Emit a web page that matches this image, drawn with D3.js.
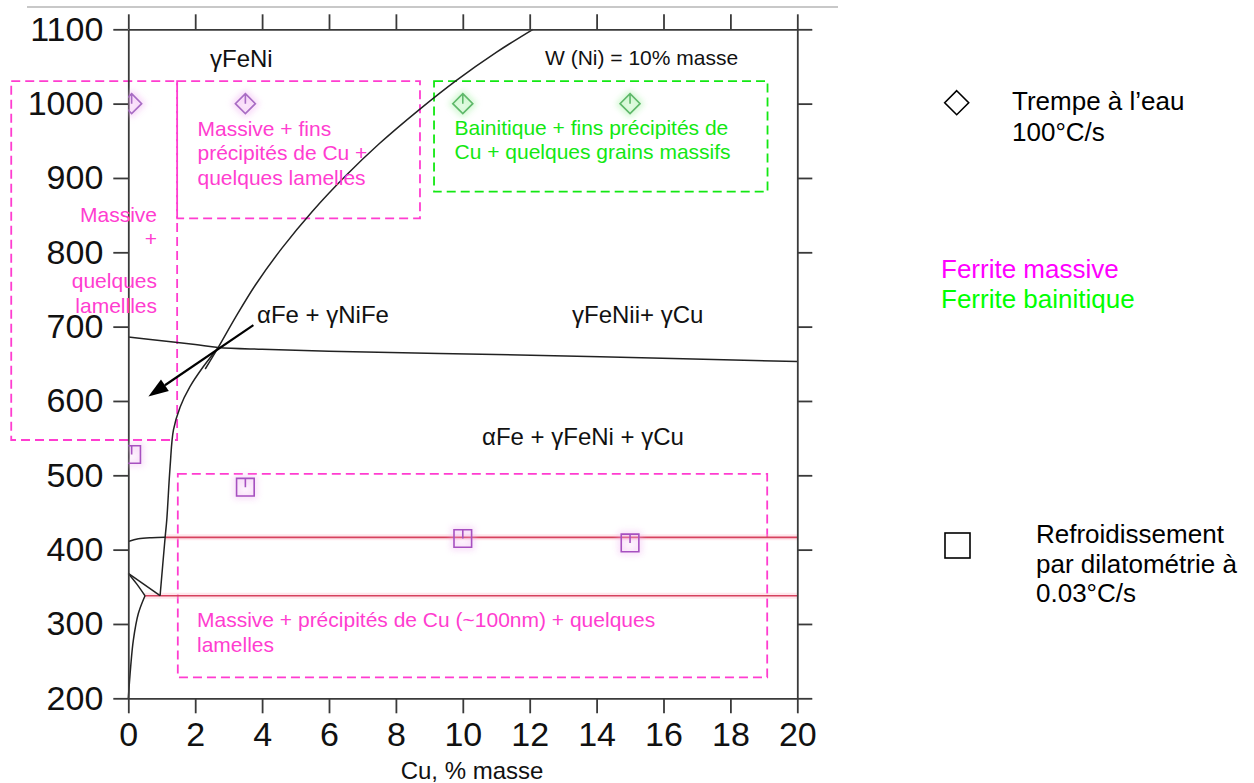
<!DOCTYPE html>
<html><head><meta charset="utf-8">
<script src="https://cdn.jsdelivr.net/npm/d3@7"></script>
<style>
body{margin:0;background:#fff;}
svg{display:block;font-family:"Liberation Sans",Arial,Helvetica,sans-serif;}
</style></head><body>
<svg id="chart" width="1254" height="783"></svg>
<script>
// ---------- data ----------
const xTicks = [0,2,4,6,8,10,12,14,16,18,20];
const yTicks = [200,300,400,500,600,700,800,900,1000,1100];

// quench (water, 100°C/s) samples – diamonds
const quenchCu = [0.1, 3.5, 10, 15];
const quenchT  = [1000, 1000, 1000, 1000];
const quenchType = ["massive","massive","bainitic","bainitic"];
// dilatometry (0.03°C/s) samples – squares
const dilatoCu = [0.1, 3.5, 10, 15];
const dilatoT  = [528, 484, 415, 409];

// phase boundaries [Cu %, T °C]
const solvusLow  = [[0.95,338],[1.1,416],[1.15,440],[1.25,512],[1.35,561],[1.55,592],[1.84,619],[2.24,646],[2.69,672]];
const solvusHigh = [[2.3,643],[2.69,672],[3.2,712],[3.8,756],[4.6,806],[5.5,855],[6.5,903],[7.5,946],[8.7,992],[9.8,1031],[11.0,1069],[12.1,1100]];
const gammaLine  = [[0,686],[1,681],[2,676],[2.69,672],[4,669.5],[6,667],[9.3,664],[14.1,659.5],[20,653]];
const line410    = [[0,411],[0.3,414.5],[0.7,416],[1.1,416.5]];
const line368a   = [[0,368],[0.25,354],[0.5,338]];
const line368b   = [[0,368],[0.95,338]];
const lineLow    = [[0,200],[0.07,242],[0.15,278],[0.3,314],[0.5,338]];
const eutectoidHigh = [[1.1,416.5],[20,416.5]];
const eutectoidLow  = [[0.5,338],[20,338]];
const arrowFrom = [3.74,702];
const arrowTo   = [0.6,606];

// annotation boxes [Cu0, Cu1, T0, T1]
const boxes = [
  {c:"pink",  b:[-3.5,1.46,547.5,1030.4]},
  {c:"pink",  b:[1.46,8.72,845.7,1030.4]},
  {c:"green", b:[9.14,19.11,881.5,1030.4]},
  {c:"pink",  b:[1.48,19.1,228.2,501.8]}
];

const PINK = "#ff3dd0", GREEN = "#12e812";

// ---------- setup ----------
const svg = d3.select("#chart");
const x = d3.scaleLinear().domain([0,20]).range([128.3,797.3]);
const y = d3.scaleLinear().domain([200,1100]).range([698.3,29.3]);

const defs = svg.append("defs");
defs.append("filter").attr("id","glow").attr("x","-100%").attr("y","-100%").attr("width","300%").attr("height","300%")
  .append("feGaussianBlur").attr("stdDeviation",3);
defs.append("clipPath").attr("id","plotclip").append("rect")
  .attr("x",x(0)).attr("y",y(1100)).attr("width",x(20)-x(0)).attr("height",y(200)-y(1100));

// top gray line (page border)
svg.append("line").attr("x1",27).attr("x2",838).attr("y1",7).attr("y2",7)
  .attr("stroke","#c8c8c8").attr("stroke-width",2);

// ---------- boxes ----------
svg.append("g").selectAll("rect").data(boxes).join("rect")
  .attr("x",d=>x(d.b[0])).attr("y",d=>y(d.b[3]))
  .attr("width",d=>x(d.b[1])-x(d.b[0])).attr("height",d=>y(d.b[2])-y(d.b[3]))
  .attr("fill","none").attr("stroke",d=>d.c==="pink"?PINK:GREEN)
  .attr("stroke-width",1.8).attr("stroke-dasharray","9,5");

// ---------- phase lines ----------
const line = d3.line().x(d=>x(d[0])).y(d=>y(d[1])).curve(d3.curveCatmullRom.alpha(0.5));
const lineStraight = d3.line().x(d=>x(d[0])).y(d=>y(d[1]));
const gl = svg.append("g").attr("fill","none");
[eutectoidHigh, eutectoidLow].forEach(l=>{
  gl.append("path").attr("d",lineStraight(l)).attr("stroke","#ffb8c8").attr("stroke-width",6).attr("opacity",0.35);
  gl.append("path").attr("d",lineStraight(l)).attr("stroke","#d6425e").attr("stroke-width",1.6);
});
[solvusLow, solvusHigh, gammaLine, line410, line368a, lineLow].forEach(l=>{
  gl.append("path").attr("d",line(l)).attr("stroke","#222").attr("stroke-width",1.5);
});
gl.append("path").attr("d",lineStraight(line368b)).attr("stroke","#222").attr("stroke-width",1.5);

// ---------- axes ----------
const axStyle = g=>{
  g.select(".domain").attr("stroke","#3a3a3a").attr("stroke-width",1.8);
  g.selectAll(".tick line").attr("stroke","#3a3a3a").attr("stroke-width",1.8);
  g.selectAll("text").attr("font-size",34).attr("fill","#111").attr("font-family","'Liberation Sans',Arial,sans-serif");
};
svg.append("g").attr("transform",`translate(0,${y(200)})`)
  .call(d3.axisBottom(x).tickValues(xTicks).tickSize(15).tickSizeOuter(0).tickPadding(9).tickFormat(d3.format("d"))).call(axStyle);
svg.append("g").attr("transform",`translate(${x(0)},0)`)
  .call(d3.axisLeft(y).tickValues(yTicks).tickSize(15).tickSizeOuter(0).tickPadding(10).tickFormat(d3.format("d"))).call(axStyle);
svg.append("g").attr("transform",`translate(0,${y(1100)})`)
  .call(d3.axisTop(x).tickValues(xTicks).tickSize(15).tickSizeOuter(0).tickFormat("")).call(axStyle);
svg.append("g").attr("transform",`translate(${x(20)},0)`)
  .call(d3.axisRight(y).tickValues(yTicks).tickSize(15).tickSizeOuter(0).tickFormat("")).call(axStyle);

svg.append("text").attr("x",472).attr("y",779).attr("text-anchor","middle")
  .attr("font-size",24).attr("fill","#111").text("Cu, % masse");

// ---------- arrow ----------
(function(){
  const x1=x(arrowFrom[0]), y1=y(arrowFrom[1]), x2=x(arrowTo[0]), y2=y(arrowTo[1]);
  const ang=Math.atan2(y2-y1,x2-x1), L=20, W=7;
  const bx=x2-L*Math.cos(ang), by=y2-L*Math.sin(ang);
  svg.append("line").attr("x1",x1).attr("y1",y1).attr("x2",bx).attr("y2",by)
    .attr("stroke","#000").attr("stroke-width",2.2);
  const p=[[x2,y2],[bx+W*Math.sin(ang),by-W*Math.cos(ang)],[bx-W*Math.sin(ang),by+W*Math.cos(ang)]];
  svg.append("polygon").attr("points",p.map(d=>d.join(",")).join(" ")).attr("fill","#000");
})();

// ---------- markers ----------
const mg = svg.append("g").attr("clip-path","url(#plotclip)");
const diamondPath = (cx,cy,r)=>`M${cx},${cy-r}L${cx+r},${cy}L${cx},${cy+r}L${cx-r},${cy}Z M${cx},${cy-r}L${cx},${cy}`;
const squarePath = (cx,cy,s)=>`M${cx-s},${cy-s}H${cx+s}V${cy+s}H${cx-s}Z M${cx},${cy-s}V${cy}`;
quenchCu.forEach((c,i)=>{
  const cx=x(c), cy=y(quenchT[i]);
  const bain = quenchType[i]==="bainitic";
  mg.append("path").attr("d",diamondPath(cx,cy,10)).attr("fill","none")
    .attr("stroke",bain?"#9cf09c":"#f0a8f0").attr("stroke-width",6).attr("opacity",0.5).attr("filter","url(#glow)");
  mg.append("path").attr("d",diamondPath(cx,cy,10)).attr("fill","none")
    .attr("stroke",bain?"#5fb86a":"#a86cc4").attr("stroke-width",1.6);
});
dilatoCu.forEach((c,i)=>{
  const cx=x(c), cy=y(dilatoT[i]);
  mg.append("path").attr("d",squarePath(cx,cy,8.8)).attr("fill","none")
    .attr("stroke","#f0b0f0").attr("stroke-width",6).attr("opacity",0.45).attr("filter","url(#glow)");
  mg.append("path").attr("d",squarePath(cx,cy,8.8)).attr("fill","none")
    .attr("stroke","#a650c0").attr("stroke-width",1.6);
});

// ---------- text annotations ----------
function txt(xp,yp,lines,opts){
  const t = svg.append("text").attr("x",xp).attr("y",yp)
    .attr("font-size",opts.size).attr("fill",opts.color).attr("text-anchor",opts.anchor||"start");
  lines.forEach((l,i)=>{
    t.append("tspan").attr("x",xp).attr("dy",i===0?0:opts.lh).text(l);
  });
}
txt(210,66.7,["γFeNi"],{size:24,color:"#111"});
txt(545,65,["W (Ni) = 10% masse"],{size:21,color:"#111"});
txt(257,323.3,["αFe + γNiFe"],{size:24,color:"#111"});
txt(572,323.3,["γFeNii+ γCu"],{size:24,color:"#111"});
txt(482,445,["αFe + γFeNi + γCu"],{size:24,color:"#111"});

txt(197.5,136,["Massive + fins","précipités de Cu +","quelques lamelles"],{size:21,color:PINK,lh:24.3});
txt(157,221.7,["Massive"],{size:21,color:PINK,anchor:"end"});
txt(157,246,["+"],{size:21,color:PINK,anchor:"end"});
txt(157,288.3,["quelques","lamellles"],{size:21,color:PINK,anchor:"end",lh:25});
txt(454.5,135,["Bainitique + fins précipités de","Cu + quelques grains massifs"],{size:21,color:GREEN,lh:24.3});
txt(197,626.7,["Massive + précipités de Cu (~100nm) + quelques","lamelles"],{size:21,color:PINK,lh:25});

// ---------- legend ----------
svg.append("path").attr("d",diamondPath(956.7,102.7,12).split(" M")[0]).attr("fill","none").attr("stroke","#000").attr("stroke-width",1.6);
txt(1012,110,["Trempe à l’eau","100°C/s"],{size:26,color:"#000",lh:30.7});
txt(941,278.3,["Ferrite massive"],{size:26,color:"#ff00ff"});
txt(941,308.3,["Ferrite bainitique"],{size:26,color:"#00ff00"});
svg.append("rect").attr("x",945).attr("y",533).attr("width",25).attr("height",25).attr("fill","none").attr("stroke","#000").attr("stroke-width",1.6);
txt(1036,543.3,["Refroidissement","par dilatométrie à","0.03°C/s"],{size:26,color:"#000",lh:29.2});
</script>
</body></html>
